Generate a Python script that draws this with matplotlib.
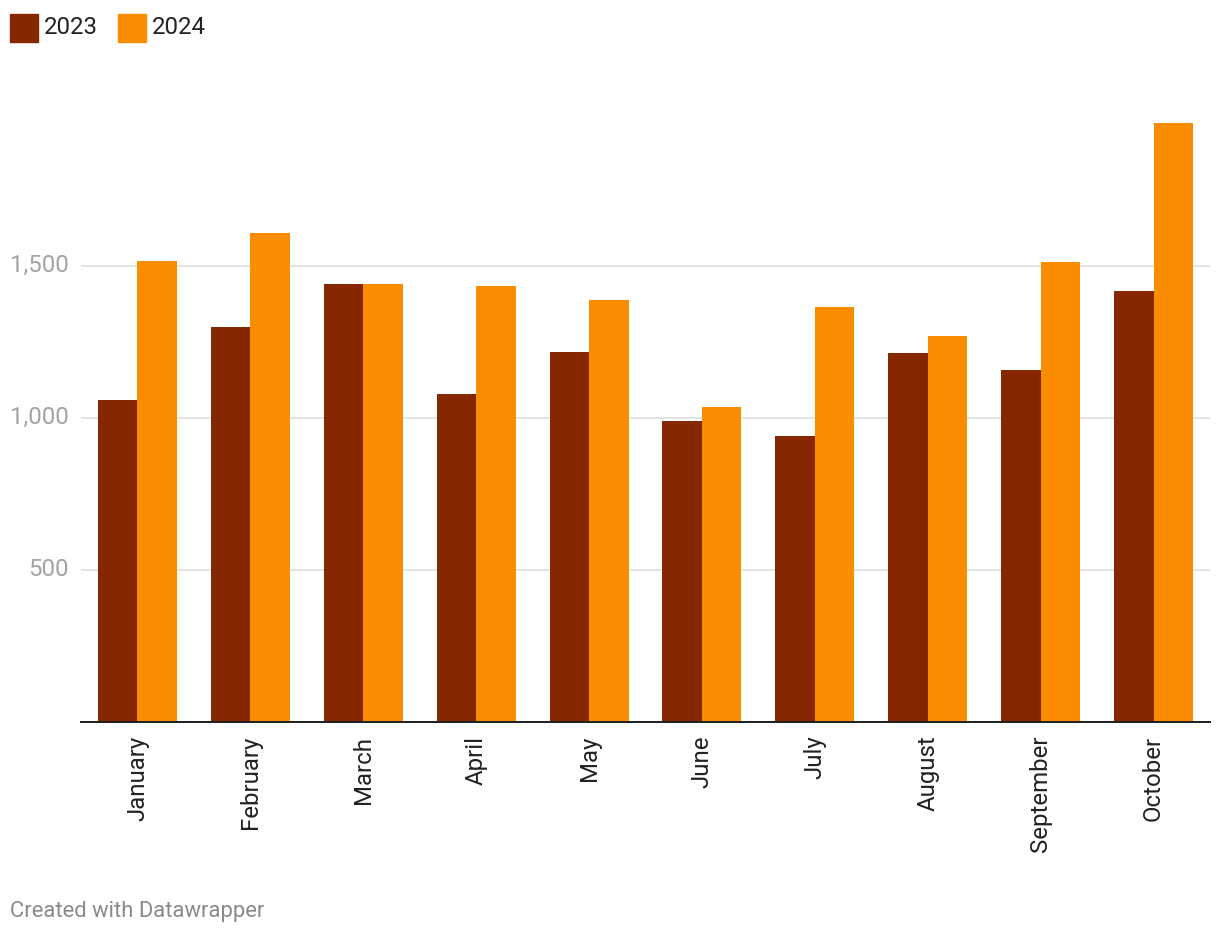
import matplotlib
matplotlib.use("Agg")
import matplotlib.pyplot as plt
from matplotlib.patches import Rectangle
import numpy as np

months = ["January", "February", "March", "April", "May", "June",
          "July", "August", "September", "October"]
series_names = ["2023", "2024"]
values_2023 = [1059, 1299, 1441, 1079, 1217, 990, 941, 1214, 1158, 1418]
values_2024 = [1516, 1608, 1441, 1434, 1388, 1036, 1365, 1270, 1513, 1970]
colors = ["#852700", "#fa8c00"]
yticks = [500, 1000, 1500]
ytick_labels = ["500", "1,000", "1,500"]

plt.rcParams['font.family'] = ['Roboto', 'DejaVu Sans']

W, H = 1220, 936
fig = plt.figure(figsize=(W / 100, H / 100), dpi=100)
px = 72 / 100  # points per pixel

left, right = 81 / W, 1210 / W
bottom = 1 - 721.7 / H
top = 1 - 113.7 / H
ax = fig.add_axes([left, bottom, right - left, top - bottom])

x = np.arange(len(months))
bw = 0.35
ax.bar(x - bw / 2, values_2023, width=bw, color=colors[0], label=series_names[0], zorder=3)
ax.bar(x + bw / 2, values_2024, width=bw, color=colors[1], label=series_names[1], zorder=3)

ax.set_xlim(-0.5, len(months) - 0.5)
ax.set_ylim(0, 2000)

for s in ["top", "right", "left"]:
    ax.spines[s].set_visible(False)
ax.spines["bottom"].set_color("#222222")
ax.spines["bottom"].set_linewidth(2 * px)
ax.spines["bottom"].set_zorder(4)

ax.set_yticks(yticks)
ax.set_yticklabels(ytick_labels)
ax.yaxis.grid(True, color="#e3e3e3", linewidth=2 * px, zorder=0)
ax.tick_params(axis="y", length=0, pad=12 * px, labelsize=24 * px, labelcolor="#a3a3a3")
for lbl in ax.get_yticklabels():
    lbl.set_verticalalignment("center")

ax.set_xticks(x)
ax.set_xticklabels(months, rotation=90, ha="center", va="top")
ax.tick_params(axis="x", length=0, pad=14 * px, labelsize=24 * px, labelcolor="#222222")

# legend
sq = 28
for i, (name, c, x0, tx) in enumerate(zip(series_names, colors, [10, 118], [44, 152])):
    fig.add_artist(Rectangle((x0 / W, 1 - 42 / H), sq / W, sq / H,
                             transform=fig.transFigure, color=c))
    fig.text(tx / W, 1 - 27 / H, name, fontsize=24 * px, color="#222222",
             ha="left", va="center")

fig.text(10 / W, 1 - 911 / H, "Created with Datawrapper", fontsize=22 * px,
         color="#8a8a8a", ha="left", va="center")

fig.savefig("out.png", dpi=100)
